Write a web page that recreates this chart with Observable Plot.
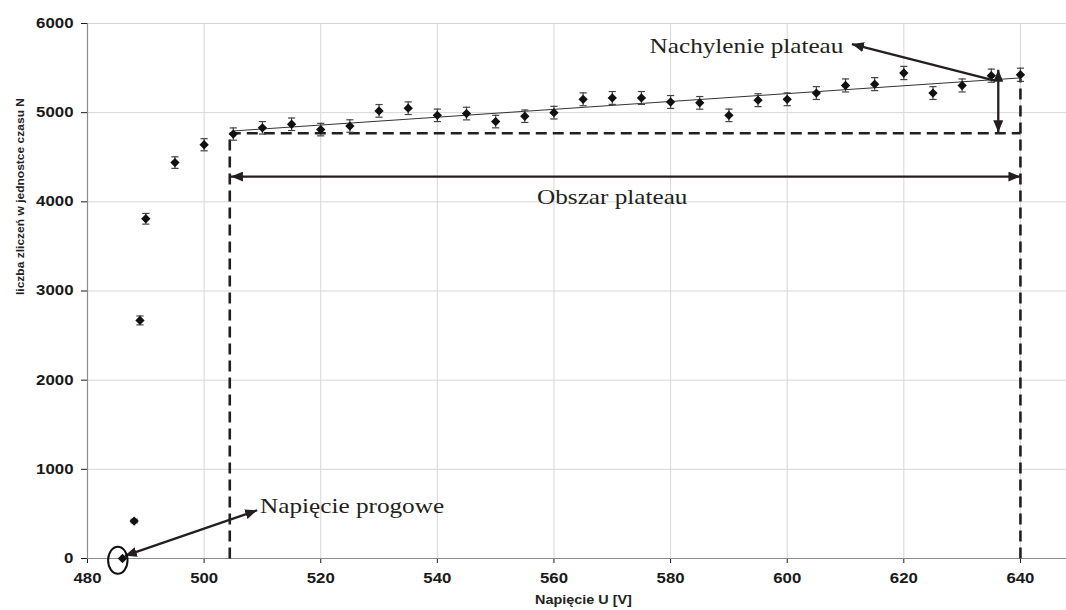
<!DOCTYPE html>
<html><head><meta charset="utf-8">
<script src="https://cdn.jsdelivr.net/npm/d3@7"></script>
<script src="https://cdn.jsdelivr.net/npm/@observablehq/plot@0.6"></script>
<style>body{margin:0;background:#fff} #chart{width:1066px;height:610px;overflow:hidden}</style>
</head><body><div id="chart"></div>
<script>
// ---- data ----
const voltage = [486,488,489,490,495,500,505,510,515,520,525,530,535,540,545,550,555,560,565,570,575,580,585,590,595,600,605,610,615,620,625,630,635,640];
const counts  = [0,420,2670,3810,4440,4640,4760,4830,4870,4810,4850,5020,5050,4970,4990,4900,4960,5000,5150,5165,5165,5120,5110,4970,5140,5150,5220,5305,5320,5445,5220,5305,5415,5425];
const errors  = [0,20,50,60,65,68,69,70,70,70,70,71,71,70,71,70,70,71,72,72,72,72,71,70,72,72,72,73,73,74,72,73,74,74];

const xTicks = [480,500,520,540,560,580,600,620,640];
const yTicks = [0,1000,2000,3000,4000,5000,6000];

// linear fit of the plateau
const fitVoltage = [505, 640];
const fitCounts  = [4795, 5390];

// plateau construction (dashed lines)
const dashX1 = [504.4, 504.4, 640];
const dashY1 = [0, 4770, 0];
const dashX2 = [504.4, 640, 640];
const dashY2 = [4770, 4770, 5380];

// annotation arrows
const arrowX1 = [504.6, 636.2, 635.6, 486.4];
const arrowY1 = [4283, 4779, 5360, 30];
const arrowX2 = [640, 636.2, 611.1, 509.1];
const arrowY2 = [4283, 5481, 5769, 541];
const arrowBoth = [true, true, false, true];

// annotation labels
const labelText = ["Napięcie progowe", "Obszar plateau", "Nachylenie plateau"];
const labelX = [509.6, 557.1, 576.4];
const labelY = [586, 4052, 5743];

// threshold ellipse
const thresholdV = [485.2];
const thresholdN = [-20];

// ---- build rows ----
const rows = voltage.map((v, i) => ({v, n: counts[i], e: errors[i]}));
const errRows = rows.filter(d => d.e > 0);
const dashRows = dashX1.map((x, i) => ({x1: x, y1: dashY1[i], x2: dashX2[i], y2: dashY2[i]}));
const arrowRows = arrowX1.map((x, i) => ({x1: x, y1: arrowY1[i], x2: arrowX2[i], y2: arrowY2[i], both: arrowBoth[i]}));
const labelRows = labelText.map((t, i) => ({t, x: labelX[i], y: labelY[i]}));
const fitRows = fitVoltage.map((v, i) => ({v, n: fitCounts[i]}));
const ellRows = thresholdV.map((v, i) => ({v, n: thresholdN[i]}));

const capSymbol = {draw(ctx, size) { const r = Math.sqrt(size / Math.PI); ctx.moveTo(-r, 0); ctx.lineTo(r, 0); }};
const ellipseSymbol = {draw(ctx, size) {
  const r = Math.sqrt(size / Math.PI), rx = r * 0.72, ry = r, k = 0.5523;
  ctx.moveTo(rx, 0);
  ctx.bezierCurveTo(rx, ry * k, rx * k, ry, 0, ry);
  ctx.bezierCurveTo(-rx * k, ry, -rx, ry * k, -rx, 0);
  ctx.bezierCurveTo(-rx, -ry * k, -rx * k, -ry, 0, -ry);
  ctx.bezierCurveTo(rx * k, -ry, rx, -ry * k, rx, 0);
  ctx.closePath();
}};

const ink = "#231f20";

const svg = Plot.plot({
  width: 1066,
  height: 610,
  marginLeft: 87,
  marginRight: 0,
  marginTop: 23,
  marginBottom: 52,
  style: {fontFamily: "'Liberation Sans', Arial, sans-serif", fontSize: "14px", fontWeight: "bold", color: "#1a1a1a", background: "#fff"},
  x: {domain: [480, 647.9], ticks: xTicks, tickSize: 5, tickPadding: 10, label: null, tickFormat: d3.format("d")},
  y: {domain: [0, 6000], ticks: yTicks, tickSize: 6, tickPadding: 8, label: null, tickFormat: d3.format("d")},
  marks: [
    Plot.ruleX(xTicks.slice(1), {stroke: "#d6d6d6", strokeWidth: 1}),
    Plot.ruleY(yTicks.slice(1), {stroke: "#d6d6d6", strokeWidth: 1}),
    Plot.ruleY([0], {stroke: "#8c8c8c", strokeWidth: 1.2}),
    Plot.ruleX([480], {stroke: "#8c8c8c", strokeWidth: 1.2}),
    Plot.link(dashRows, {x1: "x1", y1: "y1", x2: "x2", y2: "y2", stroke: ink, strokeWidth: 2.6, strokeDasharray: "11,6"}),
    Plot.line(fitRows, {x: "v", y: "n", stroke: "#333", strokeWidth: 1}),
    Plot.ruleX(errRows, {x: "v", y1: d => d.n - d.e, y2: d => d.n + d.e, stroke: "#444", strokeWidth: 1.2}),
    Plot.dot(errRows, {x: "v", y: d => d.n + d.e, symbol: capSymbol, r: 3.6, stroke: "#444", strokeWidth: 1.2, fill: "none"}),
    Plot.dot(errRows, {x: "v", y: d => d.n - d.e, symbol: capSymbol, r: 3.6, stroke: "#444", strokeWidth: 1.2, fill: "none"}),
    Plot.dot(rows, {x: "v", y: "n", symbol: "diamond2", r: 4.2, fill: "#111", stroke: "none"}),
    Plot.link(arrowRows.filter(d => d.both), {x1: "x1", y1: "y1", x2: "x2", y2: "y2", stroke: ink, strokeWidth: 2.3, markerStart: "arrow", markerEnd: "arrow"}),
    Plot.link(arrowRows.filter(d => !d.both), {x1: "x1", y1: "y1", x2: "x2", y2: "y2", stroke: ink, strokeWidth: 2.3, markerEnd: "arrow"}),
    Plot.dot(ellRows, {x: "v", y: "n", symbol: ellipseSymbol, r: 13.5, stroke: "#111", strokeWidth: 2, fill: "none"}),
    Plot.text(labelRows, {x: "x", y: "y", text: "t", textAnchor: "start", fontFamily: "'Liberation Serif', 'Times New Roman', serif", fontWeight: "normal", fontSize: 21, fill: ink}),
    Plot.text(["Napięcie U [V]"], {text: d => d, frameAnchor: "bottom", dy: 45, dx: 6.5, fontWeight: "bold", fontSize: 12, fill: "#222"}),
    Plot.text(["liczba zliczeń w jednostce czasu N"], {text: d => d, frameAnchor: "left", rotate: -90, dx: -67.5, dy: 4, fontWeight: "bold", fontSize: 11, fill: "#222"})
  ]
});
document.getElementById("chart").append(svg);

// filled triangular arrowheads, pointing outward at both ends
svg.querySelectorAll("marker").forEach(m => {
  const c = m.getAttribute("stroke") || ink;
  m.setAttribute("viewBox", "-12 -5 12 10");
  m.setAttribute("markerUnits", "userSpaceOnUse");
  m.setAttribute("markerWidth", 12);
  m.setAttribute("markerHeight", 10);
  m.setAttribute("refX", 0);
  m.setAttribute("refY", 0);
  m.setAttribute("orient", "auto-start-reverse");
  m.setAttribute("stroke", "none");
  m.setAttribute("fill", c);
  while (m.firstChild) m.removeChild(m.firstChild);
  const p = document.createElementNS("http://www.w3.org/2000/svg", "path");
  p.setAttribute("d", "M0,0L-12,-5L-12,5Z");
  p.setAttribute("fill", c);
  m.appendChild(p);
});

// reference picture is horizontally stretched: widen the texts
svg.querySelectorAll("text").forEach(t => {
  if (t.textContent.startsWith("liczba")) {
    t.setAttribute("textLength", 197);
    t.setAttribute("lengthAdjust", "spacingAndGlyphs");
    return;
  }
  const len = t.getComputedTextLength();
  if (len > 0) {
    t.setAttribute("textLength", (len * 1.2).toFixed(1));
    t.setAttribute("lengthAdjust", "spacingAndGlyphs");
  }
});
</script>
</body></html>
